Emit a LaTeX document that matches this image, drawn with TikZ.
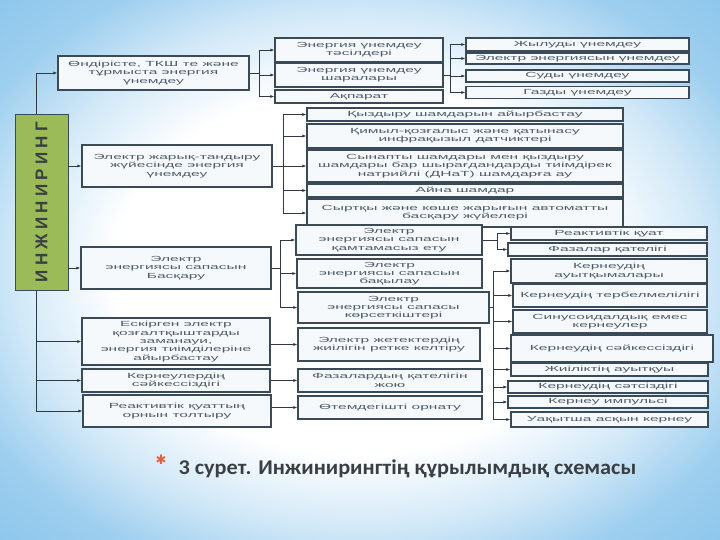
\documentclass[tikz,border=0pt]{standalone}
\usepackage{fontspec}
\usetikzlibrary{arrows.meta}
\newfontfamily\boxfont[FakeStretch=2.1]{Liberation Sans}
\newfontfamily\barfont[LetterSpace=25]{Liberation Sans}
\newfontfamily\capfont[FakeStretch=1.06]{Carlito}
\newfontfamily\starfont{DejaVu Sans}
\definecolor{bgblue}{HTML}{8CC6EC}
\definecolor{boxline}{HTML}{3B4A58}
\definecolor{boxfill}{HTML}{F5F9FC}
\definecolor{boxtext}{HTML}{4E5C6A}
\definecolor{linkcol}{HTML}{2F3A44}
\definecolor{bargreen}{HTML}{9BBB59}
\definecolor{captext}{HTML}{3A3F44}
\definecolor{starcol}{HTML}{E2603A}
\pgfdeclareradialshading{bgshade}{\pgfpoint{0bp}{0bp}}{color(0bp)=(white); color(17bp)=(white); color(24bp)=(bgblue!40); color(30bp)=(bgblue!85); color(36bp)=(bgblue); color(50bp)=(bgblue)}
\tikzset{
  box/.style={draw=boxline, fill=boxfill, line width=1.1pt, text=boxtext,
    font=\boxfont\fontsize{7.4}{8.3}\selectfont, align=center, inner sep=0pt},
  link/.style={draw=linkcol, line width=0.9pt},
  arr/.style={link, -{Latex[length=4pt,width=3pt]}},
}
\begin{document}
\begin{tikzpicture}[x=1pt,y=-1pt]
  \useasboundingbox (0,0) rectangle (720,540);
  % фон
  \shade[shading=bgshade] (0,0) rectangle (720,540);

  % сол жақ баған
  \node[draw=boxline, fill=bargreen, line width=0.8pt, minimum width=53, minimum height=176, inner sep=0pt] (gbar) at (41.5,202) {};
  \node[rotate=90, text=captext, font=\barfont\bfseries\fontsize{17}{17}\selectfont] (gtext) at (gbar.center) {ИНЖИНИРИНГ};
  \node[box, minimum width=191, minimum height=34] (b1) at (153.5,73) {Өндірісте, ТКШ те және\\тұрмыста энергия\\үнемдеу};
  \node[box, minimum width=190, minimum height=42] (b2) at (177,166) {Электр жарық-тандыру\\жүйесінде энергия\\үнемдеу};
  \node[box, minimum width=190, minimum height=42] (b3) at (176,268) {Электр\\энергиясы сапасын\\Басқару};
  \node[box, minimum width=188, minimum height=47] (b4) at (176,341.5) {Ескірген электр\\қозғалтқыштарды\\заманауи,\\энергия тиімділеріне\\айырбастау};
  \node[box, minimum width=188, minimum height=23] (b5) at (176,380.5) {Кернеулердің\\сәйкессіздігі};
  \node[box, minimum width=188, minimum height=32] (b6) at (177,411) {Реактивтік қуаттың\\орнын толтыру};

  % ортаңғы баған
  \node[box, minimum width=168, minimum height=24] (a1) at (359,50) {Энергия үнемдеу\\тәсілдері};
  \node[box, minimum width=168, minimum height=24] (a2) at (359,75) {Энергия үнемдеу\\шаралары};
  \node[box, minimum width=168, minimum height=13] (a3) at (359,96.5) {Ақпарат};
  \node[box, minimum width=316, minimum height=13] (m1) at (465,114.5) {Қыздыру шамдарын айырбастау};
  \node[box, minimum width=316, minimum height=24] (m2) at (465,136) {Қимыл-қозғалыс және қатынасу\\инфрақызыл датчиктері};
  \node[box, minimum width=316, minimum height=32] (m3) at (465,166) {Сынапты шамдары мен қыздыру\\шамдары бар шырағдандарды тиімдірек\\натрийлі (ДНаТ) шамдарға ау};
  \node[box, minimum width=316, minimum height=13] (m4) at (465,190.5) {Айна шамдар};
  \node[box, minimum width=316, minimum height=28] (m5) at (465,213) {Сыртқы және көше жарығын автоматты\\басқару жүйелері};
  \node[box, minimum width=186, minimum height=30] (n1) at (389,240) {Электр\\энергиясы сапасын\\қамтамасыз ету};
  \node[box, minimum width=185, minimum height=29] (n2) at (389.5,273.5) {Электр\\энергиясы сапасын\\бақылау};
  \node[box, minimum width=191, minimum height=31] (n3) at (393.5,307.5) {Электр\\энергиясы сапасы\\көрсеткіштері};
  \node[box, minimum width=182, minimum height=33] (n4) at (389,344.5) {Электр жетектердің\\жиілігін ретке келтіру};
  \node[box, minimum width=184, minimum height=23] (n5) at (390,380.5) {Фазалардың қателігін\\жою};
  \node[box, minimum width=184, minimum height=23] (n6) at (390,407.5) {Өтемдегішті орнату};

  % оң жақ баған
  \node[box, minimum width=223, minimum height=13] (r1) at (577.5,44.5) {Жылуды үнемдеу};
  \node[box, minimum width=223, minimum height=11] (r2) at (577.5,58.5) {Электр энергиясын үнемдеу};
  \node[box, minimum width=223, minimum height=12] (r3) at (577.5,76) {Суды үнемдеу};
  \node[box, minimum width=223, minimum height=12] (r4) at (577.5,92.5) {Газды үнемдеу};
  \node[box, minimum width=196, minimum height=13] (k1) at (609,233.5) {Реактивтік қуат};
  \node[box, minimum width=199, minimum height=13] (k2) at (607.5,249.5) {Фазалар қателігі};
  \node[box, minimum width=196, minimum height=24] (k3) at (609,271) {Кернеудің\\ауытқымалары};
  \node[box, minimum width=194, minimum height=23] (k4) at (610,295.5) {Кернеудің тербелмелілігі};
  \node[box, minimum width=194, minimum height=23] (k5) at (610,321.5) {Синусоидалдық емес\\кернеулер};
  \node[box, minimum width=202, minimum height=27] (k6) at (612,348.5) {Кернеудің сәйкессіздігі};
  \node[box, minimum width=197, minimum height=13] (k7) at (609.5,369.5) {Жиіліктің ауытқуы};
  \node[box, minimum width=200, minimum height=12] (k8) at (608,387) {Кернеудің сәтсіздігі};
  \node[box, minimum width=200, minimum height=12] (k9) at (608,402) {Кернеу импульсі};
  \node[box, minimum width=197, minimum height=15] (k10) at (609.5,419.5) {Уақытша асқын кернеу};

  % байланыстар
  \coordinate (t0) at (36,0);
  \draw[arr] (gbar.north -| t0) |- (b1.west);
  \draw[arr] (gbar.east |- b2.west) -- (b2.west);
  \draw[arr] (gbar.east |- b3.west) -- (b3.west);
  \draw[link] (gbar.south -| t0) -- (t0 |- b6.west);
  \foreach \b in {b4,b5,b6}
    \draw[arr] (t0 |- \b.west) -- (\b.west);

  \coordinate (j1) at (259,0);
  \draw[link] (b1.east) -- (j1 |- b1.east);
  \draw[link] (j1 |- a1.west) -- (j1 |- a3.west);
  \foreach \b in {a1,a2,a3}
    \draw[arr] (j1 |- \b.west) -- (\b.west);

  \coordinate (j2) at (450,0);
  \draw[link] (a2.east) -- (j2 |- a2.east);
  \draw[link] (j2 |- r1.west) -- (j2 |- r4.west);
  \foreach \b in {r1,r2,r3,r4}
    \draw[arr] (j2 |- \b.west) -- (\b.west);

  \coordinate (j3) at (283,0);
  \draw[link] (b2.east) -- (j3 |- b2.east);
  \draw[link] (j3 |- m1.west) -- (j3 |- m5.west);
  \foreach \b in {m1,m2,m3,m4,m5}
    \draw[arr] (j3 |- \b.west) -- (\b.west);

  \coordinate (j4) at (280,0);
  \draw[link] (b3.east) -- (j4 |- b3.east);
  \draw[link] (j4 |- n1.west) -- (j4 |- n3.west);
  \foreach \b in {n1,n2,n3}
    \draw[arr] (j4 |- \b.west) -- (\b.west);

  \draw[arr] (b4.east |- n4.west) -- (n4.west);
  \draw[arr] (b5.east) -- (n5.west);
  \draw[arr] (b6.east |- n6.west) -- (n6.west);

  \coordinate (j5) at (497,0);
  \draw[link] (n1.east) -- (j5 |- n1.east);
  \draw[link] (j5 |- k1.west) -- (j5 |- k2.west);
  \foreach \b in {k1,k2}
    \draw[arr] (j5 |- \b.west) -- (\b.west);

  \coordinate (j6) at (493,0);
  \draw[link] (n3.east) -- (j6 |- n3.east);
  \draw[link] (j6 |- k3.west) -- (j6 |- k10.west);
  \foreach \b in {k3,k4,k5,k6,k7,k8,k9,k10}
    \draw[arr] (j6 |- \b.west) -- (\b.west);

  % тақырып
  \node[text=starcol, font=\starfont\fontsize{13}{13}\selectfont] (star) at (161,460) {✱};
  \node[anchor=west, text=captext, font=\capfont\bfseries\fontsize{21}{21}\selectfont] (cap) at (175,469) {3 сурет. Инжинирингтің құрылымдық схемасы};
\end{tikzpicture}
\end{document}
